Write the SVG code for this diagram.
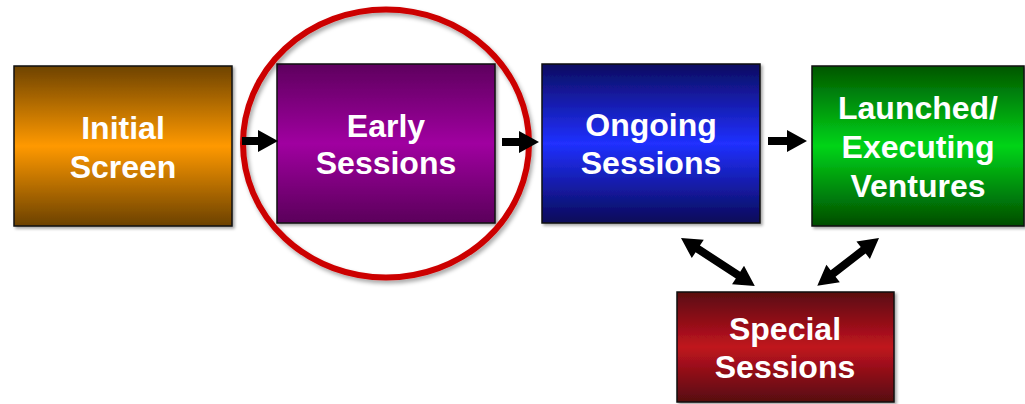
<svg xmlns="http://www.w3.org/2000/svg" width="1025" height="404" viewBox="0 0 1025 404">
<style>
.box{stroke:#111;stroke-width:1.5;filter:url(#sh)}
.lbl{font-family:"Liberation Sans",Arial,sans-serif;font-weight:bold;font-size:32px;fill:#fff;text-anchor:middle}
.arr{fill:#000}
</style>
<defs>
<filter id="sh" x="-10%" y="-10%" width="120%" height="120%"><feDropShadow dx="2" dy="2" stdDeviation="1.5" flood-color="#000" flood-opacity="0.35"/></filter>
<filter id="csh" x="-10%" y="-10%" width="120%" height="120%"><feDropShadow dx="2" dy="3" stdDeviation="2" flood-color="#000" flood-opacity="0.35"/></filter>
<linearGradient id="gO" x1="0" y1="0" x2="0" y2="1"><stop offset="0" stop-color="#6E4300"/><stop offset="0.5" stop-color="#FF9900"/><stop offset="1" stop-color="#6B4100"/></linearGradient>
<linearGradient id="gP" x1="0" y1="0" x2="0" y2="1"><stop offset="0" stop-color="#5E005E"/><stop offset="0.5" stop-color="#A000A0"/><stop offset="1" stop-color="#5A005A"/></linearGradient>
<linearGradient id="gB" x1="0" y1="0" x2="0" y2="1"><stop offset="0" stop-color="#0C0C60"/><stop offset="0.5" stop-color="#2030FF"/><stop offset="1" stop-color="#0A0A58"/></linearGradient>
<linearGradient id="gG" x1="0" y1="0" x2="0" y2="1"><stop offset="0" stop-color="#005600"/><stop offset="0.5" stop-color="#00D418"/><stop offset="1" stop-color="#004C00"/></linearGradient>
<linearGradient id="gR" x1="0" y1="0" x2="0" y2="1"><stop offset="0" stop-color="#5A0810"/><stop offset="0.5" stop-color="#C0141F"/><stop offset="1" stop-color="#560810"/></linearGradient>
</defs>
<rect width="1025" height="404" fill="#fff"/>
<g id="initial-screen">
<rect class="box" x="14" y="66" width="218" height="160" fill="url(#gO)"/>
<text class="lbl" x="123" y="139">Initial</text>
<text class="lbl" x="123" y="178">Screen</text>
</g>
<g id="early-sessions">
<rect class="box" x="277" y="64" width="218" height="159" fill="url(#gP)"/>
<text class="lbl" x="386" y="137">Early</text>
<text class="lbl" x="386" y="174">Sessions</text>
</g>
<g id="ongoing-sessions">
<rect class="box" x="542" y="64" width="218" height="159" fill="url(#gB)"/>
<text class="lbl" x="651" y="136">Ongoing</text>
<text class="lbl" x="651" y="174">Sessions</text>
</g>
<g id="launched-ventures">
<rect class="box" x="812" y="66" width="212" height="160" fill="url(#gG)"/>
<text class="lbl" x="918" y="119">Launched/</text>
<text class="lbl" x="918" y="158">Executing</text>
<text class="lbl" x="918" y="197">Ventures</text>
</g>
<g id="special-sessions">
<rect class="box" x="677" y="292" width="217" height="110" fill="url(#gR)"/>
<text class="lbl" x="785" y="340">Special</text>
<text class="lbl" x="785" y="378">Sessions</text>
</g>
<g id="highlight">
<ellipse cx="386" cy="143.5" rx="143" ry="134" fill="none" stroke="#CC0000" stroke-width="6" filter="url(#csh)"/>
</g>
<g id="connectors">
<polygon class="arr" points="242,137 258,137 258,130 278,141 258,152 258,145 242,145"/>
<polygon class="arr" points="502,138 519,138 519,131 539,142 519,153 519,146 502,146"/>
<polygon class="arr" points="768,137 787,137 787,130 807,141 787,152 787,145 768,145"/>
<polygon class="arr" transform="translate(681,238) rotate(33)" points="0,0 20,-11 20,-4 68,-4 68,-11 88,0 68,11 68,4 20,4 20,11"/>
<polygon class="arr" transform="translate(879,238) rotate(142.3)" points="0,0 20,-11 20,-4 58,-4 58,-11 78,0 58,11 58,4 20,4 20,11"/>
</g>
</svg>
